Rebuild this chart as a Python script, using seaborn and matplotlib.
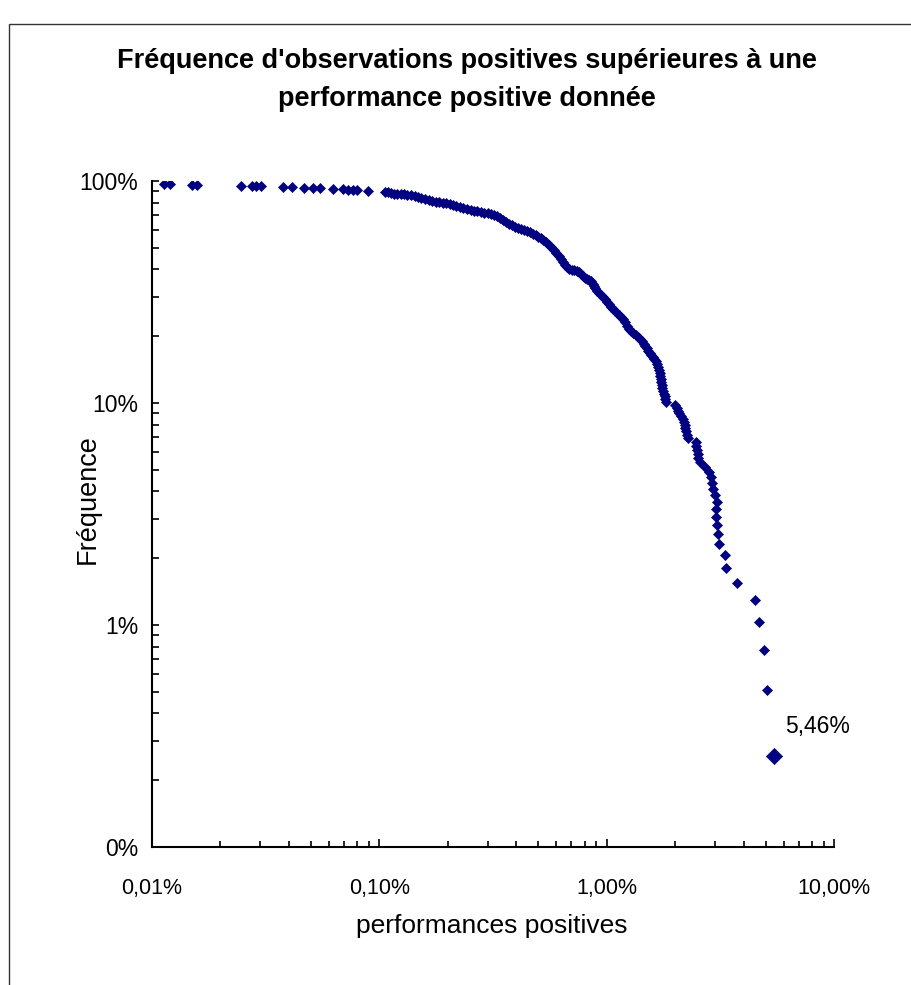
import matplotlib
matplotlib.use("Agg")
import matplotlib.pyplot as plt
import seaborn as sns
import pandas as pd
from matplotlib.patches import Rectangle
from matplotlib.ticker import LogLocator, NullFormatter

# Positive performances (%) and frequency of observations above each one (%)
perf = [
    0.0113, 0.0120, 0.0150, 0.0158, 0.0246, 0.0275, 0.0287, 0.0302, 0.0377, 0.0413,
    0.0466, 0.0511, 0.0548, 0.0626, 0.0692, 0.0728, 0.0766, 0.0798, 0.0892,
    0.106, 0.109, 0.113, 0.116, 0.120, 0.124, 0.128, 0.133, 0.138, 0.143,
    0.148, 0.153, 0.159, 0.165, 0.171, 0.177, 0.183, 0.190, 0.197, 0.204,
    0.211, 0.218, 0.226, 0.234, 0.243, 0.252, 0.261, 0.270, 0.280, 0.290,
    0.301, 0.310, 0.320, 0.330, 0.340, 0.350, 0.361, 0.372, 0.384, 0.396,
    0.408, 0.420, 0.433, 0.446, 0.460, 0.474, 0.489, 0.501, 0.514, 0.527,
    0.541, 0.555, 0.569, 0.584, 0.599, 0.614, 0.630, 0.643, 0.656, 0.669,
    0.683, 0.701, 0.719, 0.737, 0.756, 0.771, 0.787, 0.803, 0.820, 0.837,
    0.854, 0.867, 0.880, 0.893, 0.907, 0.926, 0.945, 0.964, 0.984, 1.004,
    1.025, 1.046, 1.067, 1.089, 1.111, 1.134, 1.157, 1.181, 1.205, 1.230,
    1.255, 1.281, 1.307, 1.341, 1.375, 1.403, 1.431, 1.453, 1.476, 1.498,
    1.521, 1.544, 1.568, 1.592, 1.616, 1.641, 1.666, 1.683, 1.701, 1.709,
    1.718, 1.727, 1.736, 1.744, 1.753, 1.771, 1.789, 1.798, 1.807, 1.825,
    2.00, 2.04, 2.07, 2.09, 2.13, 2.16, 2.18, 2.20, 2.22, 2.24,
    2.26, 2.29, 2.46, 2.48, 2.49, 2.51, 2.53, 2.58, 2.72, 2.83,
    2.89, 2.92, 2.95, 3.01, 3.05, 3.04, 3.03, 3.07, 3.10, 3.13,
    3.30, 3.36, 3.76, 4.51, 4.70, 4.94, 5.09,
]
freq = [
    96.9, 96.7, 96.1, 95.9, 95.3, 95.0, 94.8, 94.6, 94.1, 93.8,
    93.3, 93.0, 92.7, 92.2, 91.7, 91.4, 91.1, 90.8, 90.3,
    89.2, 88.8, 88.3, 87.8, 87.4, 87.2, 87.0, 86.8, 86.5, 85.6,
    84.7, 83.8, 83.0, 82.1, 81.3, 80.8, 80.4, 80.0, 79.6, 78.8,
    78.0, 77.2, 76.4, 75.6, 74.8, 74.0, 73.3, 72.9, 72.5, 72.1,
    71.8, 71.0, 70.3, 69.2, 68.1, 66.7, 65.4, 64.3, 63.3, 62.3,
    61.4, 60.8, 60.2, 59.5, 58.9, 58.0, 57.1, 56.2, 55.4, 54.2,
    53.1, 51.7, 50.4, 48.9, 47.4, 45.9, 44.5, 43.1, 41.8, 41.0,
    40.2, 39.9, 39.7, 39.3, 38.9, 38.1, 37.3, 36.7, 36.2, 35.8,
    35.4, 34.5, 33.7, 32.8, 31.9, 31.2, 30.6, 30.0, 29.4, 28.6,
    27.8, 27.2, 26.6, 26.0, 25.5, 24.9, 24.4, 23.8, 23.2, 22.3,
    21.5, 21.1, 20.7, 20.2, 19.8, 19.4, 19.0, 18.5, 18.1, 17.6,
    17.2, 16.8, 16.5, 16.1, 15.8, 15.4, 15.0, 14.5, 14.1, 13.6,
    13.2, 12.8, 12.4, 12.0, 11.7, 11.3, 11.0, 10.7, 10.4, 10.1,
    9.77, 9.51, 9.25, 9.00, 8.74, 8.48, 8.23, 7.97, 7.71, 7.46,
    7.20, 6.94, 6.68, 6.43, 6.17, 5.91, 5.66, 5.40, 5.14, 4.88,
    4.63, 4.37, 4.11, 3.86, 3.60, 3.34, 3.08, 2.83, 2.57, 2.31,
    2.06, 1.80, 1.54, 1.29, 1.03, 0.77, 0.51,
]

# Largest performance, highlighted and labelled
max_perf = 5.46
max_freq = 0.257
max_label = "5,46%"

x_ticks = [0.01, 0.1, 1, 10]
x_tick_labels = ["0,01%", "0,10%", "1,00%", "10,00%"]
y_ticks = [0.1, 1, 10, 100]
y_tick_labels = ["0%", "1%", "10%", "100%"]

title = "Fréquence d'observations positives supérieures à une\nperformance positive donnée"
x_label = "performances positives"
y_label = "Fréquence"

sns.set_theme(style="white")
plt.rcParams["font.family"] = ["Liberation Sans", "DejaVu Sans"]

navy = "#000080"
W, H = 911, 985
fig = plt.figure(figsize=(W / 100, H / 100), dpi=100)
ax = fig.add_axes([152 / W, 1 - 847 / H, (834 - 152) / W, (847 - 181) / H])

df = pd.DataFrame({"perf": perf, "freq": freq})
sns.scatterplot(data=df, x="perf", y="freq", marker="D", s=26, color=navy,
                edgecolor=navy, linewidth=0.5, ax=ax, legend=False)
sns.scatterplot(x=[max_perf], y=[max_freq], marker="D", s=68, color=navy,
                edgecolor=navy, linewidth=0.5, ax=ax, legend=False)
ax.annotate(max_label, (max_perf, max_freq), xytext=(8, 21),
            textcoords="offset points", ha="left", va="center",
            fontsize=16.5, color="black")

ax.set_xscale("log")
ax.set_yscale("log")
ax.set_xlim(0.01, 10)
ax.set_ylim(0.1, 100)

ax.set_xticks(x_ticks)
ax.set_xticklabels(x_tick_labels)
ax.set_yticks(y_ticks)
ax.set_yticklabels(y_tick_labels)
ax.xaxis.set_minor_locator(LogLocator(base=10, subs=range(2, 10)))
ax.yaxis.set_minor_locator(LogLocator(base=10, subs=range(2, 10)))
ax.xaxis.set_minor_formatter(NullFormatter())
ax.yaxis.set_minor_formatter(NullFormatter())

ax.tick_params(axis="x", which="major", direction="in", length=6, width=1.2,
               pad=22, labelsize=15.5, bottom=True, colors="black")
ax.tick_params(axis="x", which="minor", direction="in", length=4, width=1.2,
               bottom=True, colors="black")
ax.tick_params(axis="y", which="major", direction="in", length=5, width=1.2,
               pad=10, labelsize=16.5, left=True, colors="black")
ax.tick_params(axis="y", which="minor", direction="in", length=5, width=1.2,
               left=True, colors="black")

for side in ("top", "right"):
    ax.spines[side].set_visible(False)
for side in ("left", "bottom"):
    ax.spines[side].set_color("black")
    ax.spines[side].set_linewidth(1.5)
ax.grid(False)

ax.set_xlabel(x_label, fontsize=19, color="black", va="center")
ax.xaxis.set_label_coords((492 - 152) / 682, -(926 - 847) / 666)
ax.set_ylabel(y_label, fontsize=19.5, color="black", va="center")
ax.yaxis.set_label_coords((88 - 152) / 682, (847 - 499) / 666)

fig.text(467 / W, 1 - 80 / H, title, ha="center", va="center",
         fontsize=19.5, fontweight="bold", linespacing=1.55, color="black")

# Outer frame of the chart area
fig.add_artist(Rectangle((9 / W, -0.5), 2.0, 1 - 24 / H + 0.5,
                         transform=fig.transFigure, fill=False,
                         edgecolor="#333333", linewidth=1.0, clip_on=False))

fig.savefig("out.png", dpi=100)
